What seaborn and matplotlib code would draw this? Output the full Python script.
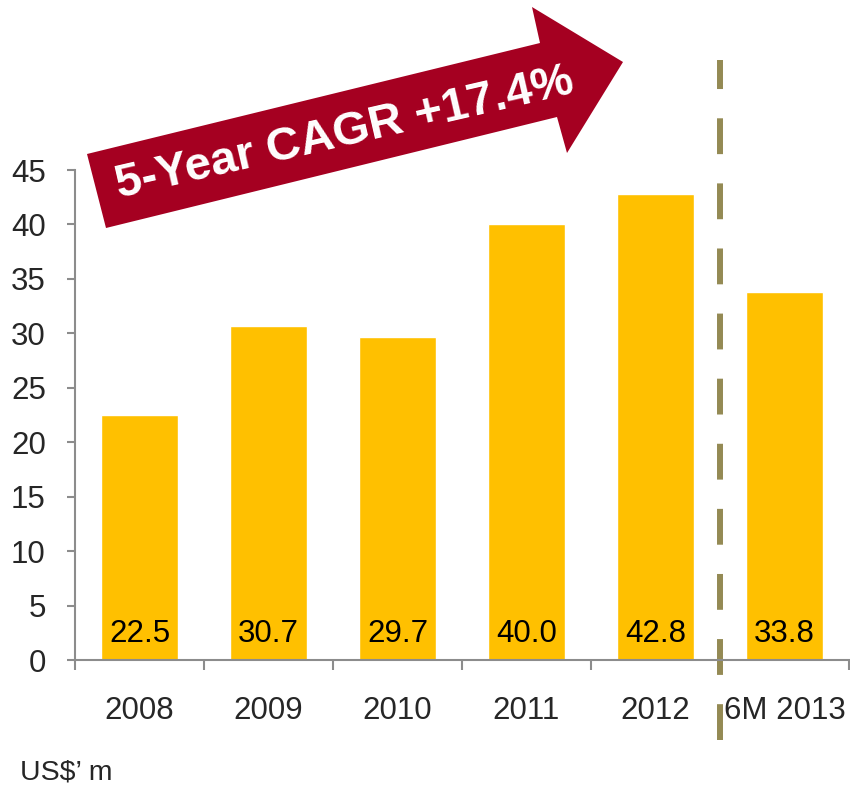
import matplotlib as mpl
mpl.use('Agg')
import matplotlib.pyplot as plt
from matplotlib.patches import Polygon
import pandas as pd
import seaborn as sns

# 연도별 값 (US$ m)
years = ['2008', '2009', '2010', '2011', '2012', '6M 2013']
values = [22.5, 30.7, 29.7, 40.0, 42.8, 33.8]
value_labels = ['22.5', '30.7', '29.7', '40.0', '42.8', '33.8']
y_ticks = [0, 5, 10, 15, 20, 25, 30, 35, 40, 45]
cagr_text = '5-Year CAGR +17.4%'
unit_text = 'US$\u2019 m'

sns.set_style('white')
plt.rcParams['font.family'] = ['Liberation Sans', 'DejaVu Sans']

df = pd.DataFrame({'year': years, 'value': values})

fig = plt.figure(figsize=(8.5, 7.93), dpi=100)
ax = fig.add_axes([75 / 850, 133 / 793, 774 / 850, 490 / 793])

sns.barplot(data=df, x='year', y='value', color='#FFC000', saturation=1,
            width=0.59, ax=ax)

ax.set_xlim(-0.5, len(years) - 0.5)
ax.set_ylim(0, 45)
ax.set_yticks(y_ticks)
ax.set_xlabel('')
ax.set_ylabel('')

# 축 스타일
grey = '#8C8C8C'
for s in ['top', 'right']:
    ax.spines[s].set_visible(False)
for s in ['left', 'bottom']:
    ax.spines[s].set_color(grey)
    ax.spines[s].set_linewidth(1.5)

ax.tick_params(axis='y', direction='out', length=6, width=1.5, color=grey,
               labelsize=22.5, pad=15, left=True)
ax.tick_params(axis='x', which='major', length=0, labelsize=22.5, pad=26)
ax.set_xticks([i - 0.5 for i in range(len(years) + 1)], minor=True)
ax.tick_params(axis='x', which='minor', direction='out', length=7, width=1.5,
               color=grey, bottom=True)

# 막대 안쪽 값 라벨
for i, lab in enumerate(value_labels):
    ax.text(i, 1.0, lab, ha='center', va='bottom', fontsize=22.5, color='black')

# 점선 구분선
ax.axvline(4.5, ymin=-0.163, ymax=1.224, color='#948A54', lw=4.3,
           dashes=(6, 4.9), clip_on=False, solid_capstyle='butt')

# CAGR 화살표
pts = [(106, 228), (87, 154), (540, 43), (532, 7), (623, 62), (567, 153), (557, 117)]
pts = [(x / 850, 1 - y / 793) for x, y in pts]
fig.patches.append(Polygon(pts, closed=True, transform=fig.transFigure,
                           facecolor='#A50021', edgecolor='none'))
fig.text(347 / 850, 1 - 145 / 793, cagr_text, rotation=13, ha='center',
         va='baseline', fontsize=34, fontweight='bold', color='white',
         rotation_mode='anchor')

fig.text(20 / 850, 1 - 773 / 793, unit_text, ha='left', va='center',
         fontsize=20.5)

fig.savefig('out.png', dpi=100)
